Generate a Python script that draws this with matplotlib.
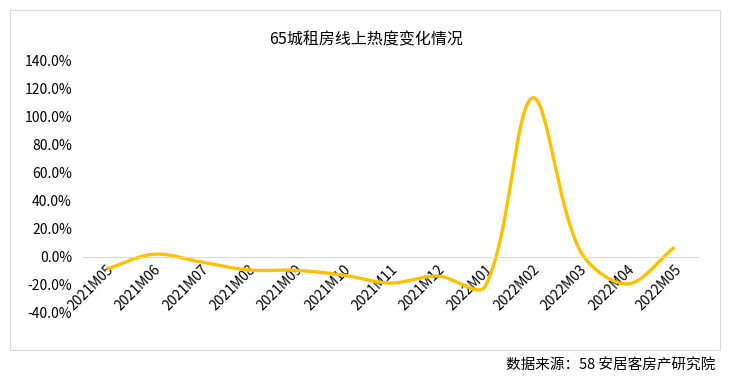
import matplotlib
matplotlib.use('Agg')
import matplotlib.pyplot as plt
import numpy as np
from matplotlib.patches import Rectangle

plt.rcParams['font.family'] = ['Noto Sans CJK SC', 'DejaVu Sans']

months = ['2021M05', '2021M06', '2021M07', '2021M08', '2021M09', '2021M10', '2021M11',
          '2021M12', '2022M01', '2022M02', '2022M03', '2022M04', '2022M05']
heat = [-8.6, 2.0, -3.6, -9.3, -9.5, -12.9, -18.6, -13.6, -21.0, 113.6, 5.0, -19.3, 7.0]
yticks = [-40, -20, 0, 20, 40, 60, 80, 100, 120, 140]


def smooth(xs, ys, sx=47.3, sy=1.4, n=40):
    # smoothed line like a spreadsheet: bezier segments, tangent from neighbours,
    # control distance scaled by chord length (worked out in pixel space)
    P = np.column_stack([np.asarray(xs, float) * sx, np.asarray(ys, float) * sy])
    m = len(P)
    out = []
    for i in range(m - 1):
        p0, p3 = P[i], P[i + 1]
        a = P[max(i - 1, 0)]
        b = P[min(i + 2, m - 1)]
        L = np.linalg.norm(p3 - p0)
        t0 = p3 - a
        l0 = np.linalg.norm(p0 - a) + L
        t1 = b - p0
        l1 = L + np.linalg.norm(b - p3)
        c1 = p0 + t0 * L / l0 / 3 if l0 > 0 else p0
        c2 = p3 - t1 * L / l1 / 3 if l1 > 0 else p3
        t = np.linspace(0, 1, n)[:, None]
        pts = (1 - t) ** 3 * p0 + 3 * (1 - t) ** 2 * t * c1 + 3 * (1 - t) * t ** 2 * c2 + t ** 3 * p3
        out.append(pts)
    out = np.vstack(out)
    return out[:, 0] / sx, out[:, 1] / sy


fig = plt.figure(figsize=(7.31, 3.77), dpi=100)
fig.patches.append(Rectangle((10 / 731, 1 - 350 / 377), 710 / 731, 340 / 377,
                             transform=fig.transFigure, fill=False, edgecolor='#d9d9d9', lw=0.8))
ax = fig.add_axes([83 / 731, 1 - 313 / 377, 615 / 731, 252 / 377])

x = np.arange(len(months))
lx, ly = smooth(x, heat)
ax.plot(lx, ly, color='#FFC000', lw=2.4, solid_capstyle='butt')

for s in ['top', 'right', 'left']:
    ax.spines[s].set_visible(False)
ax.spines['bottom'].set_position(('data', 0))
ax.spines['bottom'].set_color('#d9d9d9')

ax.set_xlim(-0.5, len(months) - 0.5)
ax.set_ylim(-40, 140)
ax.set_yticks(yticks)
ax.set_yticklabels(['%.1f%%' % v for v in yticks], fontsize=10)
ax.set_xticks(x)
ax.set_xticklabels(months, rotation=45, ha='right', rotation_mode='anchor', fontsize=10)
ax.tick_params(length=0)
ax.tick_params(axis='x', pad=4)
ax.tick_params(axis='y', pad=8)

fig.text(366 / 731, 1 - 40 / 377, '65城租房线上热度变化情况', ha='center', va='center', fontsize=11.5)
fig.text(715 / 731, 1 - 365 / 377, '数据来源：58 安居客房产研究院', ha='right', va='center', fontsize=10.5)

fig.savefig('out.png', dpi=100)
